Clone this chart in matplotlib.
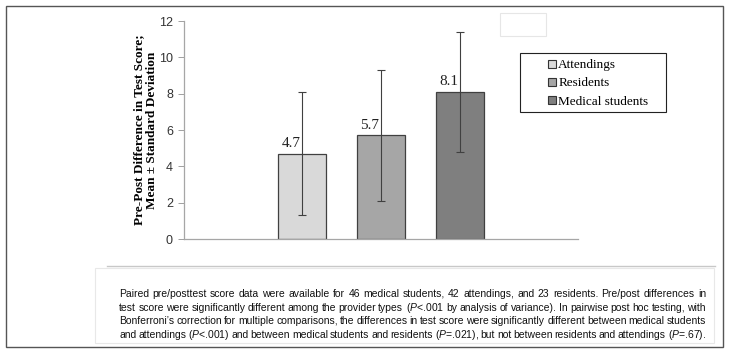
import matplotlib
matplotlib.use("Agg")
import matplotlib.pyplot as plt
from matplotlib.lines import Line2D
from matplotlib.patches import Rectangle

plt.rcParams["mathtext.fontset"] = "custom"
plt.rcParams["mathtext.rm"] = "Liberation Sans"
plt.rcParams["mathtext.it"] = "Liberation Sans:italic"

# data
groups = ["Attendings", "Residents", "Medical students"]
means = [4.7, 5.7, 8.1]
sds = [3.4, 3.6, 3.3]
positions = [1, 2, 3]
colors = ["#d9d9d9", "#a6a6a6", "#7f7f7f"]
yticks = [0, 2, 4, 6, 8, 10, 12]

caption_lines = [
    "Paired pre/posttest score data were available for 46 medical students, 42 attendings, and 23 residents. Pre/post differences in",
    r"test score were significantly different among the provider types ($\mathit{P}$<.001 by analysis of variance). In pairwise post hoc testing, with",
    "Bonferroni\u2019s correction for multiple comparisons, the differences in test score were significantly different between medical students",
    r"and attendings ($\mathit{P}$<.001) and between medical students and residents ($\mathit{P}$=.021), but not between residents and attendings ($\mathit{P}$=.67).",
]

W, H = 730, 354
fig = plt.figure(figsize=(W / 100, H / 100), dpi=100)


def fx(px):
    return px / W


def fy(py):
    return 1 - py / H


ax = fig.add_axes([fx(184), fy(239), (578 - 184) / W, (239 - 21) / H])

ax.bar(positions, means, width=0.61, color=colors, edgecolor="#404040", linewidth=0.9, zorder=2)
ax.errorbar(positions, means, yerr=sds, fmt="none", ecolor="#404040", elinewidth=0.8,
            capsize=3, capthick=0.8, zorder=3)

for x, m in zip(positions, means):
    ax.text(x - 0.14, m + 0.38, f"{m:.1f}", ha="center", va="baseline",
            fontsize=11, family="Liberation Serif", color="#222222")

ax.set_xlim(-0.5, 4.5)
ax.set_ylim(0, 12)
ax.set_yticks(yticks)
ax.set_xticks([])
ax.tick_params(axis="y", length=4.5, width=0.7, color="#a0a0a0", labelsize=9,
               labelcolor="#333333", pad=3.5)
for lab in ax.get_yticklabels():
    lab.set_family("Liberation Sans")
for s in ["top", "right"]:
    ax.spines[s].set_visible(False)
for s in ["left", "bottom"]:
    ax.spines[s].set_color("#a6a6a6")
    ax.spines[s].set_linewidth(0.9)

fig.text(fx(146), fy(130), "Pre-Post Difference in Test Score;\nMean \u00b1 Standard Deviation",
         rotation=90, ha="center", va="center", multialignment="center",
         fontsize=9.5, fontweight="bold", family="Liberation Serif", linespacing=1.1)

# legend, boxed by hand so the frame matches the reference width
fig.patches.append(Rectangle((fx(520), fy(112)), fx(666) - fx(520), fy(53) - fy(112),
                             transform=fig.transFigure, fill=False, edgecolor="#222222", lw=0.8))
handles = [Line2D([], [], marker="s", linestyle="none", markersize=5.5,
                  markerfacecolor=c, markeredgecolor="#333333", markeredgewidth=0.8)
           for c in colors]
leg = fig.legend(handles, groups, loc="upper left", bbox_to_anchor=(fx(541), fy(53)),
                 prop={"family": "Liberation Serif", "size": 9.5}, frameon=False,
                 handlelength=0.7, handletextpad=0.15, labelspacing=0.45,
                 borderpad=0.45, borderaxespad=0)

# outer frame, blank box and caption box
fig.patches.append(Rectangle((fx(6), fy(347)), fx(723) - fx(6), fy(6) - fy(347),
                             transform=fig.transFigure, fill=False, edgecolor="#555555", lw=1.0))
fig.patches.append(Rectangle((fx(500), fy(36)), fx(546) - fx(500), fy(13) - fy(36),
                             transform=fig.transFigure, fill=False, edgecolor="#e6e6e6", lw=0.8))
fig.patches.append(Rectangle((fx(95), fy(343)), fx(714) - fx(95), fy(268) - fy(343),
                             transform=fig.transFigure, fill=False, edgecolor="#e8e8e8", lw=0.8))
fig.lines.append(Line2D([fx(107), fx(715)], [fy(266), fy(266)], transform=fig.transFigure,
                        color="#c8c8c8", lw=1.0))

# caption is justified: place words one by one and spread the gaps
renderer = fig.canvas.get_renderer()
left_px, right_px = 119, 706
for i, line in enumerate(caption_lines):
    y = fy(294 + i * 13.7)
    words = line.split(" ")
    texts = [fig.text(0, y, w, ha="left", va="center", fontsize=7.45,
                      family="Liberation Sans", color="#111111") for w in words]
    widths = [t.get_window_extent(renderer).width for t in texts]
    gap = (right_px - left_px - sum(widths)) / (len(words) - 1)
    x = left_px
    for t, wd in zip(texts, widths):
        t.set_x(fx(x))
        x += wd + gap

fig.savefig("out.png", dpi=100)
